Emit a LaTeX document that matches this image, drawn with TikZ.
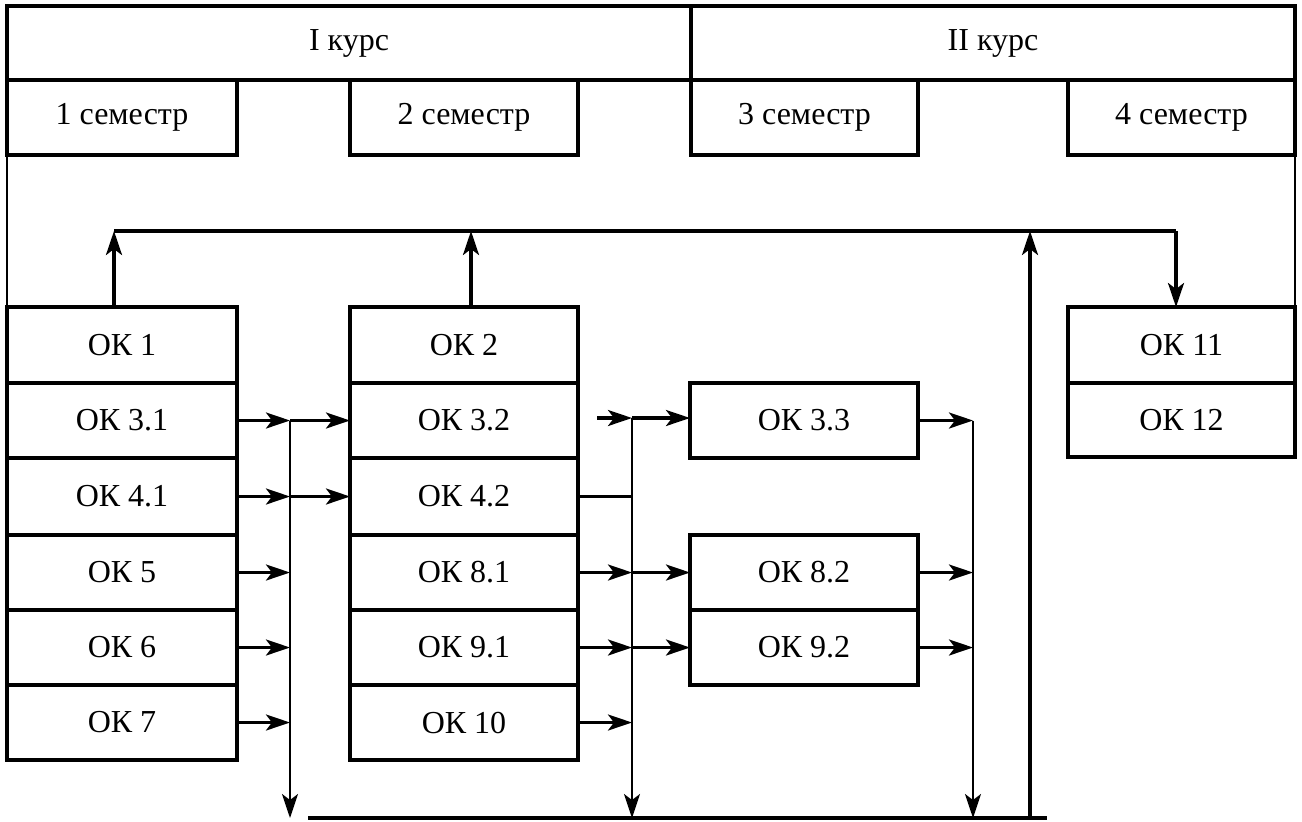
\documentclass[tikz,border=0pt]{standalone}
\usepackage{fontspec}
\setmainfont{Liberation Serif}
\usetikzlibrary{arrows.meta}
\tikzset{
  blk/.style={draw, line width=2.2pt, inner sep=0pt, outer sep=0pt,
              font=\fontsize{16}{19}\selectfont},
  tip/.tip={Stealth[length=12pt,width=8pt,inset=3pt]},
  arr/.style={line width=1.6pt, -tip},
  link/.style={line width=1.6pt},
  busarr/.style={line width=1.2pt, -tip},
  thinline/.style={line width=1pt},
}
% box given by its corners (x1,y1) and (x2,y2)
\newcommand\blkbox[6]{%
  \node[blk, minimum width={(#4-#2)*0.5pt}, minimum height={(#5-#3)*0.5pt}]
    (#1) at ({(#2+#4)/2},{(#3+#5)/2}) {#6};}
\begin{document}
\begin{tikzpicture}[x=0.5pt,y=-0.5pt]
\useasboundingbox (0,0) rectangle (1302,821);

% header: courses and semesters
\blkbox{k1}{7}{6}{691}{80}{I курс}
\blkbox{k2}{691}{6}{1295}{80}{II курс}
\blkbox{sem1}{7}{80}{237}{155}{1 семестр}
\blkbox{sem2}{350}{80}{578}{155}{2 семестр}
\blkbox{sem3}{691}{80}{918}{155}{3 семестр}
\blkbox{sem4}{1068}{80}{1295}{155}{4 семестр}

% first column
\blkbox{ok1}{7}{307}{237}{383}{ОК 1}
\blkbox{ok31}{7}{383}{237}{458}{ОК 3.1}
\blkbox{ok41}{7}{458}{237}{535}{ОК 4.1}
\blkbox{ok5}{7}{535}{237}{610}{ОК 5}
\blkbox{ok6}{7}{610}{237}{685}{ОК 6}
\blkbox{ok7}{7}{685}{237}{760}{ОК 7}

% second column
\blkbox{ok2}{350}{307}{578}{383}{ОК 2}
\blkbox{ok32}{350}{383}{578}{458}{ОК 3.2}
\blkbox{ok42}{350}{458}{578}{535}{ОК 4.2}
\blkbox{ok81}{350}{535}{578}{610}{ОК 8.1}
\blkbox{ok91}{350}{610}{578}{685}{ОК 9.1}
\blkbox{ok10}{350}{685}{578}{760}{ОК 10}

% third column
\blkbox{ok33}{690}{383}{918}{458}{ОК 3.3}
\blkbox{ok82}{690}{535}{918}{610}{ОК 8.2}
\blkbox{ok92}{690}{610}{918}{685}{ОК 9.2}

% fourth column
\blkbox{ok11}{1068}{307}{1295}{383}{ОК 11}
\blkbox{ok12}{1068}{383}{1295}{457}{ОК 12}

% side borders between semesters and modules
\draw[thinline] (sem1.south west) -- (sem1.south west |- ok1.north);
\draw[thinline] (sem4.south east) -- (sem4.south east |- ok11.north);

% upper distribution line
\coordinate (hl)  at (114,231);
\coordinate (up2) at (471,231);
\coordinate (hr)  at (1176,231);
\draw[link] (hl) -- (hr);
\draw[arr] (ok1.north -| hl) -- (hl);
\draw[arr] (ok2.north -| up2) -- (up2);
\draw[arr] (hr) -- (hr |- ok11.north);

% bottom collecting line and return riser
\coordinate (bl)  at (308,818);
\coordinate (br)  at (1047,818);
\coordinate (rB)  at (1030,818);
\coordinate (rT)  at (1030,231);
\draw[link] (bl) -- (br);
\draw[arr] (rB) -- (rT);

% bus after first column
\coordinate (aT) at (290,420.5);
\coordinate (aB) at (290,818);
\draw[busarr] (aT) -- (aB);
\foreach \n in {ok31,ok41,ok5,ok6,ok7}
  \draw[arr] (\n.east) -- (\n.east -| aT);
\draw[arr] (ok32.west -| aT) -- (ok32.west);
\draw[arr] (ok42.west -| aT) -- (ok42.west);

% bus after second column
\coordinate (bT) at (632,418);
\coordinate (bB) at (632,818);
\coordinate (s32) at (597,418);
\draw[busarr] (bT) -- (bB);
\draw[arr] (s32) -- (bT);
\draw[arr] (bT) -- (bT -| ok33.west);
\draw[link] (ok42.east) -- (ok42.east -| bT);
\foreach \n in {ok81,ok91,ok10}
  \draw[arr] (\n.east) -- (\n.east -| bT);
\draw[arr] (ok82.west -| bT) -- (ok82.west);
\draw[arr] (ok92.west -| bT) -- (ok92.west);

% bus after third column
\coordinate (cT) at (973,420.5);
\coordinate (cB) at (973,818);
\draw[busarr] (cT) -- (cB);
\foreach \n in {ok33,ok82,ok92}
  \draw[arr] (\n.east) -- (\n.east -| cT);
\end{tikzpicture}
\end{document}
